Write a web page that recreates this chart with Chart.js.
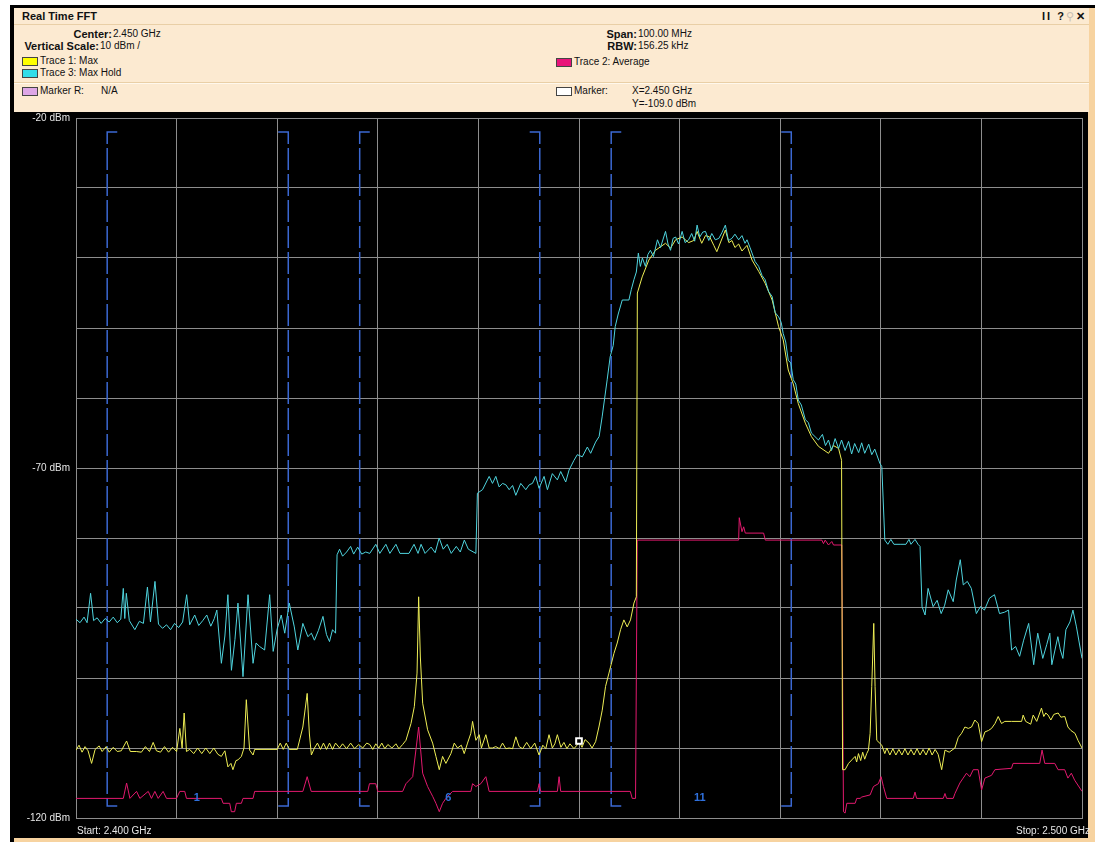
<!DOCTYPE html>
<html lang="en">

<head>
    <meta charset="UTF-8">
    <title>Real Time FFT</title>
    <style>
        body { margin: 0; width: 1095px; height: 842px; background: #fff; position: relative; overflow: hidden;
               font-family: "Liberation Sans", Arial, sans-serif; }
        .win { position: absolute; left: 10px; top: 5px; width: 1085px; height: 837px; background: #f7d3a0;
               border-top: 3px solid #000; border-left: 4px solid #000; box-sizing: border-box; }
        .head { position: absolute; left: 14px; top: 8px; width: 1075px; height: 104px; background: #fcead1; }
        .plot { position: absolute; left: 14px; top: 112px; width: 1074px; height: 726px; background: #000; }
        .plot canvas { position: absolute; left: 0; top: -6px; }
        .t { position: absolute; font-size: 10px; line-height: 12px; color: #111; white-space: nowrap; }
        .b { font-weight: bold; font-size: 11px; }
        .r { text-align: right; }
        .box { position: absolute; width: 14px; height: 7px; border: 1px solid #444; }
        .line { position: absolute; left: 14px; width: 1075px; height: 1px; }
        .ax { position: absolute; font-size: 10px; line-height: 12px; color: #e6e6e6; white-space: nowrap; }
    </style>
</head>

<body>
    <div class="win"></div>
    <div class="head"></div>
    <div class="line" style="top:24px; background:#e9cfa6"></div>
    <div class="line" style="top:82px; background:#e9cfa6"></div>
    <div class="line" style="top:83px; background:#fff8ec"></div>

    <div class="t b" style="left:22px; top:10px">Real Time FFT</div>
    <div class="t b" style="left:1042px; top:10px; letter-spacing:2px">II ?<span style="color:#c9c0b4; font-weight:normal">⚲</span>✕</div>

    <div class="t r" style="left:0; width:112px; top:28px"><b style="font-size:11px">Center:</b></div>
    <div class="t" style="left:113px; top:28px">2.450 GHz</div>
    <div class="t r" style="left:0; width:99px; top:40px"><b style="font-size:11px">Vertical Scale:</b></div>
    <div class="t" style="left:100px; top:40px">10 dBm /</div>

    <div class="box" style="left:22px; top:57px; background:#ffff00"></div>
    <div class="t" style="left:40px; top:55px">Trace 1: Max</div>
    <div class="box" style="left:22px; top:69px; background:#33dde8"></div>
    <div class="t" style="left:40px; top:67px">Trace 3: Max Hold</div>
    <div class="box" style="left:22px; top:87px; background:#dda6e6"></div>
    <div class="t" style="left:40px; top:85px">Marker R:</div>
    <div class="t" style="left:101px; top:85px">N/A</div>

    <div class="t r" style="left:500px; width:137px; top:28px"><b style="font-size:11px">Span:</b></div>
    <div class="t" style="left:638px; top:28px">100.00 MHz</div>
    <div class="t r" style="left:500px; width:137px; top:40px"><b style="font-size:11px">RBW:</b></div>
    <div class="t" style="left:638px; top:40px">156.25 kHz</div>
    <div class="box" style="left:556px; top:58px; background:#e8147a"></div>
    <div class="t" style="left:574px; top:56px">Trace 2: Average</div>
    <div class="box" style="left:556px; top:87px; background:#fff"></div>
    <div class="t" style="left:574px; top:85px">Marker:</div>
    <div class="t" style="left:632px; top:85px">X=2.450 GHz</div>
    <div class="t" style="left:632px; top:98px">Y=-109.0 dBm</div>

    <div class="plot"><canvas id="fft" width="1074" height="732"></canvas></div>
    <div class="ax" style="left:77px; top:825px">Start: 2.400 GHz</div>
    <div class="ax r" style="left:900px; width:190px; top:825px">Stop: 2.500 GHz</div>

    <script src="https://cdn.jsdelivr.net/npm/chart.js"></script>

    <script>
        // levels, [frequency MHz, dBm]
        const maxHoldTrace = [
            [2400.0, -91.6], [2400.4, -92.1], [2400.8, -91.3], [2401.1, -92.1], [2401.45, -87.9], [2401.75, -91.8],
            [2402.1, -91.4], [2402.5, -92.2], [2402.9, -91.5], [2403.3, -92.0], [2403.7, -91.3], [2404.1, -92.1],
            [2404.45, -91.6], [2404.7, -87.2], [2404.85, -91.5], [2405.0, -87.9], [2405.3, -91.8], [2405.85, -93.1],
            [2406.3, -91.9], [2406.7, -92.2], [2407.1, -87.0], [2407.4, -92.0], [2407.85, -86.2], [2408.2, -92.3],
            [2408.6, -92.9], [2409.0, -92.4], [2409.4, -93.1], [2409.8, -92.2], [2410.2, -92.8], [2410.6, -92.0],
            [2411.0, -88.1], [2411.3, -92.4], [2411.8, -91.0], [2412.2, -92.5], [2412.6, -91.8], [2413.0, -91.0],
            [2413.4, -92.6], [2413.75, -91.5], [2414.0, -90.3], [2414.45, -97.9], [2414.8, -94.0], [2415.1, -88.1],
            [2415.45, -98.9], [2415.8, -94.5], [2416.1, -89.3], [2416.6, -99.8], [2417.1, -88.1], [2417.6, -97.9],
            [2417.9, -95.0], [2418.25, -95.5], [2418.75, -96.0], [2419.25, -88.1], [2419.6, -96.2], [2420.0, -93.0],
            [2420.4, -91.0], [2420.75, -93.6], [2421.2, -89.3], [2421.7, -92.7], [2422.05, -96.0], [2422.55, -92.2],
            [2423.05, -94.1], [2423.4, -93.6], [2423.7, -94.6], [2424.1, -93.2], [2424.55, -91.2], [2424.9, -93.8],
            [2425.2, -94.8], [2425.5, -93.1], [2425.8, -93.6], [2425.95, -82.4],
            [2426.2, -81.6], [2426.5, -82.6], [2426.9, -82.0], [2427.3, -81.2], [2427.6, -82.3], [2428.0, -81.3],
            [2428.4, -82.3], [2428.8, -82.0], [2429.2, -82.2], [2429.8, -80.9], [2430.2, -82.2], [2430.8, -80.9],
            [2431.2, -82.2], [2431.8, -80.9], [2432.2, -82.2], [2433.1, -82.2], [2433.6, -80.9], [2434.0, -82.2],
            [2434.3, -80.9], [2434.7, -82.2], [2435.3, -81.3], [2435.7, -82.1], [2436.1, -80.0], [2436.5, -81.6],
            [2436.9, -80.9], [2437.3, -82.2], [2437.8, -81.2], [2438.2, -82.0], [2438.6, -80.3], [2439.0, -81.6],
            [2439.75, -82.2], [2439.9, -73.6],
            [2440.41, -73.1], [2441.07, -71.2], [2441.4, -72.2], [2441.73, -71.2], [2442.06, -72.7], [2442.4, -72.2],
            [2442.73, -72.4], [2443.06, -73.1], [2443.4, -72.5], [2443.72, -73.9], [2444.21, -72.2], [2444.71, -73.1],
            [2445.05, -72.4], [2445.37, -72.2], [2445.7, -71.2], [2446.03, -72.9], [2446.53, -71.2], [2446.86, -73.1],
            [2447.35, -70.8], [2447.85, -71.7], [2448.18, -70.5], [2448.68, -72.0], [2449.01, -70.3], [2449.5, -68.9],
            [2449.83, -68.1], [2450.33, -68.4], [2450.83, -67.0], [2451.16, -67.9], [2451.65, -66.3], [2452.0, -65.5],
            [2452.3, -62.7], [2452.8, -57.4], [2453.1, -54.1], [2453.4, -52.5], [2453.6, -49.8], [2453.9, -48.0],
            [2454.3, -46.0], [2454.96, -46.0], [2455.2, -44.5], [2455.46, -43.1], [2455.7, -42.0], [2455.9, -39.3],
            [2456.1, -41.2], [2456.3, -40.0], [2456.6, -41.2], [2456.85, -39.5], [2457.1, -38.9], [2457.4, -39.8],
            [2457.8, -37.4], [2458.1, -38.5], [2458.6, -36.2], [2458.85, -38.0], [2459.1, -38.9], [2459.35, -37.2],
            [2459.6, -37.0], [2459.9, -38.0], [2460.25, -36.2], [2460.55, -37.8], [2460.9, -37.4], [2461.2, -36.5],
            [2461.5, -37.6], [2461.74, -35.3], [2462.0, -37.0], [2462.3, -36.3], [2462.57, -36.2], [2462.9, -37.5],
            [2463.2, -36.5], [2463.55, -37.4], [2463.9, -37.2], [2464.2, -36.4], [2464.55, -35.3], [2464.85, -37.5],
            [2465.2, -37.2], [2465.5, -36.6], [2465.87, -37.4], [2466.2, -36.8], [2466.5, -37.9], [2466.7, -37.4],
            [2467.0, -38.5], [2467.2, -39.3], [2467.5, -40.5], [2467.86, -41.2], [2468.2, -42.5], [2468.5, -43.1],
            [2468.85, -44.8], [2469.2, -45.5], [2469.5, -47.8], [2469.84, -48.4], [2470.1, -49.2], [2470.3, -50.8],
            [2470.55, -52.0], [2470.8, -54.6], [2471.05, -55.0], [2471.3, -57.4], [2471.55, -58.0], [2471.8, -60.3],
            [2472.1, -61.0], [2472.5, -63.1], [2472.8, -63.5], [2473.1, -65.0], [2473.8, -66.0], [2474.2, -65.2],
            [2474.5, -66.8], [2474.8, -66.0], [2475.1, -67.5], [2475.46, -65.8], [2475.8, -67.2], [2476.1, -66.0],
            [2476.45, -67.5], [2476.8, -66.2], [2477.1, -68.0], [2477.4, -66.5], [2477.8, -67.8], [2478.1, -66.4],
            [2478.4, -67.9], [2478.8, -66.6], [2479.1, -68.1], [2479.4, -67.3], [2479.9, -69.3], [2480.1, -69.8],
            [2480.4, -80.3], [2480.7, -80.9], [2481.0, -80.2], [2481.3, -80.9], [2482.0, -80.9], [2482.5, -80.9],
            [2482.8, -80.2], [2483.0, -80.9], [2483.4, -80.2], [2483.7, -80.9], [2483.9, -81.2], [2484.1, -89.8],
            [2484.4, -91.0], [2484.7, -87.2], [2485.2, -89.8], [2485.6, -88.9], [2486.0, -90.8], [2486.35, -89.6],
            [2486.7, -87.4], [2487.2, -89.1], [2487.5, -86.0], [2487.9, -83.1], [2488.2, -86.7], [2488.6, -86.2],
            [2489.0, -87.2], [2489.5, -90.8], [2489.9, -89.8], [2490.3, -90.3], [2490.8, -88.6], [2491.3, -88.1],
            [2491.8, -90.8], [2492.3, -90.6], [2492.7, -90.3], [2493.0, -96.0], [2493.4, -95.5], [2493.8, -96.9],
            [2494.2, -94.6], [2494.7, -92.2], [2495.2, -98.1], [2495.6, -93.6], [2496.1, -97.2], [2496.5, -95.2],
            [2496.8, -93.6], [2497.0, -98.1], [2497.6, -94.1], [2497.85, -96.0], [2498.1, -97.2], [2498.4, -93.1],
            [2498.8, -92.0], [2499.1, -90.3], [2499.45, -92.7], [2500.0, -97.2]
        ];

        const maxTrace = [
            [2400.0, -110.3], [2400.3, -109.6], [2400.6, -110.6], [2400.9, -109.8], [2401.2, -110.4], [2401.55, -112.2],
            [2401.9, -110.2], [2402.3, -109.7], [2402.6, -110.5], [2403.0, -109.8], [2403.3, -110.6], [2403.7, -109.9],
            [2404.1, -110.5], [2404.5, -110.4], [2405.03, -109.0], [2405.4, -110.5], [2406.0, -110.5], [2406.5, -110.6],
            [2406.9, -109.8], [2407.3, -110.5], [2407.67, -109.2], [2408.0, -110.4], [2408.4, -110.6], [2408.8, -109.8],
            [2409.2, -110.6], [2409.6, -109.9], [2410.0, -110.5], [2410.32, -107.2], [2410.55, -110.0], [2410.75, -105.0],
            [2410.98, -110.5], [2411.3, -110.2], [2411.7, -110.8], [2412.1, -110.0], [2412.5, -110.8], [2412.9, -110.0],
            [2413.3, -110.8], [2413.7, -110.0], [2414.1, -110.9], [2414.45, -111.2], [2414.8, -110.4], [2415.1, -112.7],
            [2415.4, -112.2], [2415.6, -113.1], [2415.9, -111.8], [2416.1, -111.7], [2416.44, -111.2], [2416.7, -110.0],
            [2416.93, -103.1], [2417.26, -110.3], [2417.6, -111.0], [2417.76, -110.2], [2420.0, -110.2], [2420.3, -109.3],
            [2420.6, -110.2], [2420.9, -109.3], [2421.2, -110.2], [2422.0, -110.2], [2422.55, -107.0], [2422.98, -102.2],
            [2423.2, -108.0], [2423.4, -111.0], [2423.7, -110.0], [2424.0, -109.3], [2424.3, -110.2], [2424.6, -109.3],
            [2424.9, -110.2], [2425.2, -109.3], [2425.5, -110.2], [2425.8, -109.3], [2426.2, -110.0], [2426.5, -109.4],
            [2426.9, -110.1], [2427.3, -109.3], [2427.7, -110.1], [2428.1, -109.5], [2428.5, -110.0], [2428.9, -109.3],
            [2429.2, -109.5], [2429.5, -110.2], [2429.8, -109.4], [2430.1, -110.0], [2430.4, -109.3], [2430.7, -110.1],
            [2431.0, -109.5], [2431.4, -110.0], [2431.8, -109.4], [2432.1, -110.1], [2432.47, -109.5], [2432.8, -108.9],
            [2433.3, -106.5], [2433.63, -104.1], [2433.9, -99.3], [2434.06, -88.4], [2434.23, -97.0], [2434.46, -103.6],
            [2434.95, -107.4], [2435.45, -109.3], [2435.78, -111.2], [2436.11, -113.1], [2436.44, -111.2], [2436.77, -112.2],
            [2437.27, -110.8], [2437.6, -109.3], [2437.93, -110.0], [2438.3, -109.6], [2438.59, -110.8], [2438.92, -109.3],
            [2439.25, -107.9], [2439.42, -106.2], [2439.75, -108.9], [2440.08, -108.1], [2440.3, -110.0], [2440.74, -108.1],
            [2441.07, -110.0], [2441.4, -110.0], [2441.73, -109.8], [2442.1, -110.1], [2442.4, -109.3], [2442.73, -110.1],
            [2443.06, -110.0], [2443.4, -110.1], [2443.72, -108.4], [2444.05, -109.8], [2444.4, -110.1], [2444.8, -109.2],
            [2445.2, -110.1], [2445.6, -109.3], [2446.03, -111.0], [2446.4, -109.6], [2446.7, -110.1], [2447.02, -108.1],
            [2447.35, -110.0], [2447.6, -109.4], [2447.85, -108.1], [2448.2, -109.9], [2448.5, -109.2], [2448.8, -110.1],
            [2449.1, -109.4], [2449.5, -110.1], [2449.8, -109.6], [2450.0, -109.0], [2450.3, -109.9], [2450.6, -108.8],
            [2450.99, -109.3], [2451.3, -110.0], [2451.65, -109.1], [2451.98, -107.0], [2452.31, -104.6], [2452.64, -101.2],
            [2452.98, -99.3], [2453.47, -96.5], [2453.8, -95.0], [2454.13, -93.1], [2454.46, -91.7], [2454.79, -92.7],
            [2455.12, -91.7], [2455.46, -89.3], [2455.7, -88.4], [2455.8, -45.0], [2456.28, -42.7], [2456.94, -40.3],
            [2457.6, -38.9], [2458.6, -37.9], [2459.1, -38.6], [2459.6, -37.4], [2460.25, -37.0], [2460.9, -37.8],
            [2461.4, -37.5], [2461.74, -36.2], [2462.2, -37.9], [2462.57, -36.8], [2463.0, -37.0], [2463.4, -38.2],
            [2463.7, -39.1], [2464.0, -38.0], [2464.55, -36.0], [2464.9, -37.8], [2465.2, -37.5], [2465.5, -38.5],
            [2465.87, -38.0], [2466.2, -39.0], [2466.7, -38.2], [2467.2, -40.3], [2467.86, -41.9], [2468.5, -43.6],
            [2469.2, -46.0], [2469.84, -49.8], [2470.3, -51.7], [2470.8, -56.0], [2471.3, -58.0], [2471.8, -60.8],
            [2472.5, -63.6], [2473.1, -65.5], [2473.8, -66.9], [2474.8, -67.9], [2475.3, -66.8], [2475.8, -67.2],
            [2476.1, -68.9], [2476.2, -113.1], [2476.45, -113.1], [2476.79, -112.2], [2477.12, -111.7], [2477.45, -111.2],
            [2477.6, -112.0], [2477.78, -110.8], [2478.0, -111.8], [2478.2, -110.6], [2478.4, -111.6], [2478.6, -110.8],
            [2478.77, -110.3], [2478.94, -107.9], [2479.1, -101.2], [2479.3, -92.2], [2479.43, -101.2], [2479.6, -108.9],
            [2480.1, -109.6], [2480.4, -110.8], [2480.6, -110.0], [2480.9, -111.0], [2481.2, -110.1], [2481.5, -111.0],
            [2481.8, -110.2], [2482.1, -111.0], [2482.4, -110.1], [2482.7, -111.0], [2483.0, -110.2], [2483.3, -111.0],
            [2483.6, -110.1], [2483.9, -111.0], [2484.2, -110.2], [2484.5, -111.0], [2484.8, -110.0], [2485.1, -111.0],
            [2485.4, -110.2], [2485.7, -110.9], [2486.05, -113.1], [2486.38, -110.3], [2486.8, -110.6], [2487.37, -110.0],
            [2487.7, -108.5], [2488.03, -107.9], [2488.36, -107.0], [2488.7, -107.2], [2489.02, -107.0], [2489.35, -106.0],
            [2489.68, -106.5], [2490.02, -109.1], [2490.35, -107.7], [2490.7, -107.5], [2491.01, -107.2], [2491.35, -106.5],
            [2491.67, -105.5], [2492.0, -106.5], [2492.33, -106.2], [2493.0, -106.2], [2494.0, -106.2], [2494.15, -105.3],
            [2494.4, -106.2], [2494.9, -106.6], [2495.15, -105.3], [2495.5, -106.2], [2495.97, -104.3], [2496.2, -105.5],
            [2496.4, -105.0], [2496.63, -105.3], [2496.9, -106.0], [2497.2, -105.2], [2497.63, -105.0], [2497.9, -105.6],
            [2498.29, -105.5], [2498.6, -107.0], [2498.9, -107.5], [2499.3, -107.9], [2499.6, -108.9], [2500.0, -110.0]
        ];

        const averageTrace = [
            [2400.0, -117.2], [2404.7, -117.2], [2405.03, -115.0], [2405.36, -117.2], [2406.02, -116.2], [2406.35, -117.2],
            [2407.18, -116.2], [2407.5, -117.2], [2407.84, -116.2], [2408.17, -117.2], [2408.66, -116.2], [2409.0, -117.2],
            [2409.99, -117.2], [2410.32, -116.2], [2410.81, -116.2], [2410.98, -117.2], [2414.45, -117.2], [2414.62, -117.9],
            [2415.28, -117.9], [2415.44, -119.1], [2415.77, -119.1], [2415.94, -117.9], [2416.44, -117.9], [2416.6, -117.2],
            [2417.6, -117.2], [2417.76, -116.2], [2422.55, -116.2], [2422.98, -114.1], [2423.38, -116.2], [2429.0, -116.2],
            [2429.17, -115.1], [2429.8, -115.1], [2430.0, -116.2], [2432.47, -116.2], [2432.8, -115.1], [2433.47, -114.1],
            [2434.06, -107.0], [2434.46, -113.6], [2434.95, -115.5], [2435.45, -116.9], [2435.78, -117.9], [2436.11, -119.1],
            [2436.44, -117.9], [2436.77, -117.2], [2437.43, -116.2], [2439.25, -116.2], [2439.42, -115.1], [2439.75, -115.5],
            [2440.24, -115.1], [2440.74, -114.1], [2441.07, -116.2], [2445.87, -116.2], [2446.03, -115.1], [2446.2, -116.2],
            [2447.85, -116.2], [2448.02, -114.1], [2448.18, -116.2], [2455.1, -116.2], [2455.29, -117.2], [2455.62, -117.2],
            [2455.79, -80.3], [2465.87, -80.3], [2465.93, -77.1], [2466.2, -79.1], [2466.37, -78.4], [2466.53, -79.3],
            [2468.35, -79.3], [2468.52, -80.3], [2474.14, -80.3], [2474.3, -80.8], [2474.47, -80.3], [2474.8, -81.0],
            [2475.13, -80.5], [2475.3, -81.0], [2476.12, -81.0], [2476.29, -119.1], [2476.45, -119.3], [2476.62, -117.9],
            [2477.45, -117.9], [2477.61, -117.2], [2477.94, -117.2], [2478.11, -117.0], [2478.94, -116.7], [2479.27, -115.5],
            [2479.76, -115.1], [2480.03, -114.1], [2480.26, -115.5], [2480.59, -117.2], [2483.23, -117.2], [2483.4, -116.3],
            [2483.56, -117.2], [2486.21, -117.2], [2486.38, -116.5], [2486.54, -117.2], [2487.2, -117.2], [2487.37, -116.5],
            [2487.86, -115.0], [2488.19, -114.3], [2488.52, -113.6], [2488.85, -114.1], [2489.19, -113.1], [2489.68, -113.1],
            [2490.02, -116.0], [2490.35, -114.3], [2491.01, -113.9], [2491.34, -113.1], [2492.99, -112.9], [2493.15, -112.2],
            [2495.8, -112.2], [2496.03, -110.3], [2496.3, -112.2], [2497.29, -112.2], [2497.62, -113.1], [2498.28, -113.1],
            [2498.6, -114.3], [2498.94, -113.6], [2499.27, -114.6], [2500.0, -116.2]
        ];

        // wi-fi channel overlays
        const chanName = ['1', '6', '11'];
        const chanCenter = [2412, 2437, 2462];
        const chanLow = [2403.1, 2428.2, 2453.2];
        const chanHigh = [2421.1, 2446.1, 2471.1];
        const chanTop = -22;
        const chanBottom = -118.3;
        const chanTick = 1;

        const markerFreq = [2450.0];
        const markerLevel = [-109.0];

        const gridColor = '#8d8d8d';

        function toPoints(trace) {
            return trace.map(p => ({ x: p[0], y: p[1] }));
        }

        const datasets = [
            { data: toPoints(maxHoldTrace), borderColor: '#4fd4de', order: 2 },
            { data: toPoints(maxTrace), borderColor: '#eeee55', order: 3 },
            { data: toPoints(averageTrace), borderColor: '#e2196e', order: 4 },
            {
                data: markerFreq.map((f, i) => ({ x: f, y: markerLevel[i] })),
                showLine: false, pointRadius: 4, pointStyle: 'rect',
                pointBackgroundColor: '#000', pointBorderColor: '#fff', pointBorderWidth: 2, order: 1
            }
        ];

        chanName.forEach((n, i) => {
            datasets.push({
                data: [
                    { x: chanLow[i] + chanTick, y: chanTop }, { x: chanLow[i], y: chanTop },
                    { x: chanLow[i], y: chanBottom }, { x: chanLow[i] + chanTick, y: chanBottom },
                    { x: chanCenter[i], y: null },
                    { x: chanHigh[i] - chanTick, y: chanTop }, { x: chanHigh[i], y: chanTop },
                    { x: chanHigh[i], y: chanBottom }, { x: chanHigh[i] - chanTick, y: chanBottom }
                ],
                borderColor: '#3b68d2', borderWidth: 1.5, borderDash: [22, 4], spanGaps: false, order: 9
            });
        });

        // channel numbers along the bottom
        const chanLabels = {
            id: 'chanLabels',
            afterDatasetsDraw(chart) {
                const { ctx, scales } = chart;
                ctx.save();
                ctx.fillStyle = '#2f70dc';
                ctx.font = 'bold 11px "Liberation Sans", Arial, sans-serif';
                ctx.textAlign = 'center';
                ctx.textBaseline = 'middle';
                chanName.forEach((n, i) => {
                    ctx.fillText(n, scales.x.getPixelForValue(chanCenter[i]), scales.y.getPixelForValue(chanBottom) - 8);
                });
                ctx.restore();
            }
        };

        new Chart(document.getElementById('fft'), {
            type: 'line',
            data: { datasets: datasets },
            options: {
                responsive: false,
                animation: false,
                devicePixelRatio: 1,
                elements: {
                    line: { borderWidth: 1, tension: 0, fill: false },
                    point: { radius: 0 }
                },
                layout: { padding: { top: 0, right: 4, left: 0, bottom: 0 } },
                plugins: { legend: { display: false }, tooltip: { enabled: false } },
                scales: {
                    x: {
                        type: 'linear', min: 2400, max: 2500,
                        ticks: { stepSize: 10, display: false },
                        grid: { color: gridColor, drawTicks: false },
                        border: { color: gridColor },
                        afterFit: s => { s.height = 20; }
                    },
                    y: {
                        min: -120, max: -20,
                        ticks: {
                            stepSize: 10, padding: 6, color: '#e6e6e6',
                            font: { family: '"Liberation Sans", Arial, sans-serif', size: 10 },
                            callback: v => (v === -20 || v === -70 || v === -120) ? v + ' dBm' : ''
                        },
                        grid: { color: gridColor, drawTicks: false },
                        border: { color: gridColor },
                        afterFit: s => { s.width = 62; }
                    }
                }
            },
            plugins: [chanLabels]
        });
    </script>
</body>

</html>
